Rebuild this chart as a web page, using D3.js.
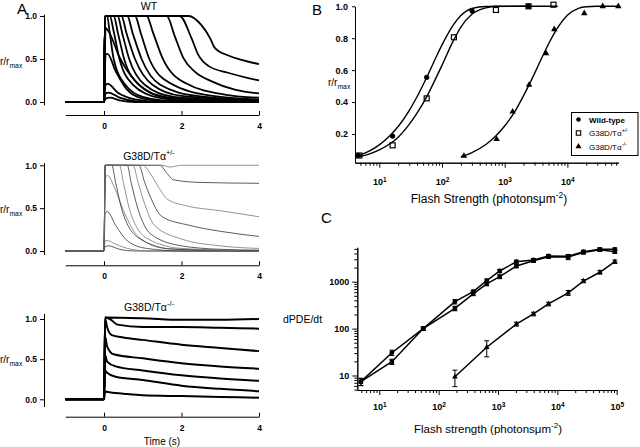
<!DOCTYPE html>
<html><head><meta charset="utf-8">
<script src="https://cdn.jsdelivr.net/npm/d3@7"></script>
<style>
body{margin:0;background:#fff}
svg{display:block}
text{font-family:"Liberation Sans",Arial,Helvetica,sans-serif;fill:#000}
</style>
</head><body>
<svg id="c" width="640" height="447"></svg>
<script>
// ---------------- DATA ----------------
// Panel A : normalized photoresponses, [time (s), r/rmax]
const wtTraces = [
 [[-1,0],[0,0],[0.04,0.04],[0.15,0.05],[0.4,0.02],[0.8,0],[4,0]],
 [[-1,0],[0,0],[0.04,0.1],[0.12,0.11],[0.4,0.05],[0.8,0.01],[1.2,0],[4,0]],
 [[-1,0],[0,0],[0.04,0.2],[0.1,0.21],[0.35,0.11],[0.8,0.03],[1.3,0.005],[4,0]],
 [[-1,0],[0,0],[0.04,0.55],[0.09,0.56],[0.3,0.36],[0.6,0.14],[1.0,0.04],[1.6,0.01],[4,0]],
 [[-1,0],[0,0],[0.04,0.86],[0.12,0.82],[0.4,0.52],[0.8,0.25],[1.2,0.11],[1.7,0.05],[2.5,0.02],[4,0.01]],
 [[-1,0],[0,0],[0.03,1],[0.08,1],[0.15,0.8],[0.25,0.5],[0.55,0.2],[1.0,0.06],[1.8,0.01],[4,0]],
 [[-1,0],[0,0],[0.03,1],[0.15,1],[0.25,0.82],[0.4,0.5],[0.75,0.2],[1.4,0.05],[2.2,0.01],[4,0]],
 [[-1,0],[0,0],[0.03,1],[0.25,1],[0.36,0.8],[0.52,0.5],[0.9,0.2],[1.6,0.05],[2.5,0.02],[4,0.01]],
 [[-1,0],[0,0],[0.03,1],[0.35,1],[0.47,0.8],[0.65,0.5],[1.05,0.2],[1.8,0.06],[4,0.01]],
 [[-1,0],[0,0],[0.03,1],[0.45,1],[0.58,0.8],[0.8,0.5],[1.25,0.2],[2.0,0.07],[4,0.02]],
 [[-1,0],[0,0],[0.03,1],[0.6,1],[0.74,0.8],[0.97,0.5],[1.45,0.2],[2.4,0.07],[4,0.02]],
 [[-1,0],[0,0],[0.03,1],[0.8,1],[0.95,0.8],[1.17,0.5],[1.7,0.22],[2.8,0.07],[4,0.03]],
 [[-1,0],[0,0],[0.03,1],[1.1,1],[1.27,0.8],[1.52,0.5],[2.1,0.22],[3.2,0.08],[4,0.05]],
 [[-1,0],[0,0],[0.03,1],[1.62,1],[1.83,0.76],[2.05,0.51],[2.35,0.35],[2.78,0.24],[3.4,0.14],[4,0.1]],
 [[-1,0],[0,0],[0.03,1],[1.95,1],[2.26,0.74],[2.43,0.55],[2.69,0.42],[3.2,0.34],[4,0.25]],
 [[-1,0],[0,0],[0.03,1],[2.18,1],[2.52,0.89],[2.74,0.74],[2.86,0.63],[3.21,0.54],[3.55,0.49],[4,0.44]]
];
const hetTraces = [
 [[-1,0],[0,0],[0.03,0.05],[0.12,0.06],[0.4,0.02],[0.8,0],[4,0]],
 [[-1,0],[0,0],[0.03,0.12],[0.1,0.12],[0.3,0.08],[0.7,0.02],[1.2,0],[4,0]],
 [[-1,0],[0,0],[0.03,0.44],[0.08,0.46],[0.3,0.3],[0.6,0.12],[1.1,0.03],[2,0],[4,0]],
 [[-1,0],[0,0],[0.03,0.86],[0.1,0.88],[0.25,0.76],[0.55,0.42],[0.9,0.16],[1.6,0.03],[4,0]],
 [[-1,0],[0,0],[0.03,1],[0.2,1],[0.3,0.8],[0.45,0.5],[0.9,0.15],[1.8,0.02],[4,0]],
 [[-1,0],[0,0],[0.03,1],[0.4,1],[0.5,0.8],[0.65,0.5],[1.1,0.15],[2.0,0.03],[4,0]],
 [[-1,0],[0,0],[0.03,1],[0.6,1],[0.7,0.8],[0.87,0.5],[1.2,0.2],[2.0,0.06],[3,0.02],[4,0.01]],
 [[-1,0],[0,0],[0.03,1],[0.75,1],[0.88,0.8],[1.05,0.55],[1.3,0.3],[2.0,0.14],[3,0.06],[4,0.03]],
 [[-1,0],[0,0],[0.03,1],[0.9,1],[1.05,0.8],[1.18,0.65],[1.5,0.4],[2.2,0.3],[3,0.23],[4,0.17]],
 [[-1,0],[0,0],[0.03,1],[1.0,1],[1.2,0.9],[1.4,0.75],[1.65,0.6],[2.1,0.53],[3,0.47],[4,0.4]],
 [[-1,0],[0,0],[0.03,1],[1.45,1],[1.6,0.92],[1.8,0.83],[2.5,0.8],[4,0.79]],
 [[-1,0],[0,0],[0.03,1],[1.5,1],[1.7,0.98],[2,1],[3,1],[4,1]]
];
const koTraces = [
 [[-1,0],[0,0],[0.03,0.1],[0.1,0.09],[0.5,0.07],[1,0.05],[2,0.04],[3,0.03],[4,0.02]],
 [[-1,0],[0,0],[0.03,0.36],[0.08,0.33],[0.3,0.28],[1,0.24],[2,0.17],[3,0.13],[4,0.1]],
 [[-1,0],[0,0],[0.03,0.55],[0.08,0.47],[0.3,0.41],[1,0.36],[2,0.3],[3,0.26],[4,0.23]],
 [[-1,0],[0,0],[0.03,0.78],[0.08,0.66],[0.25,0.56],[1,0.51],[2,0.45],[3,0.41],[4,0.38]],
 [[-1,0],[0,0],[0.03,1],[0.08,0.9],[0.2,0.8],[0.5,0.77],[1,0.74],[2,0.68],[3,0.64],[4,0.6]],
 [[-1,0],[0,0],[0.03,1.02],[0.15,1.0],[0.35,0.93],[1,0.9],[2,0.9],[3,0.89],[4,0.88]],
 [[-1,0],[0,0],[0.03,1.02],[1,1.01],[2,0.99],[3,0.99],[4,1.0]]
];
const aTimeTicks = [0,2,4];
const aRTicks = [0,0.5,1];
const aTitles = ["WT","G38D/T\u03b1","G38D/T\u03b1"];
const aTitleSups = ["","+/-","-/-"];

// Panel B : intensity-response
const bWTFlash = [4.6,16.3,57,303,2400];
const bWTResp  = [0.066,0.187,0.555,0.97,1.0];
const bHetFlash = [4.8,16.3,57,155,725,2400,6000];
const bHetResp  = [0.065,0.129,0.423,0.806,0.977,1.0,1.01];
const bKOFlash = [224,744,1340,2450,4570,6180,18600,36600,65000];
const bKOResp  = [0.062,0.167,0.34,0.507,0.705,0.856,0.956,1.0,1.0];
const bWTFitX = [4.6,7,10,15,20,30,40,60,80,100,150,200,300,500,2400];
const bWTFitY = [0.063,0.094,0.132,0.192,0.247,0.347,0.433,0.573,0.679,0.758,0.881,0.942,0.986,0.999,1.0];
const bHetFitX = [4.6,7,10,15,20,30,40,60,80,100,150,200,300,500,700,7000];
const bHetFitY = [0.055,0.075,0.1,0.14,0.18,0.26,0.33,0.45,0.55,0.63,0.78,0.87,0.95,0.99,1.0,1.0];
const bKOFitX = [200,300,500,700,1000,1500,2000,3000,4000,5000,7000,10000,15000,20000,30000,65000];
const bKOFitY = [0.056,0.083,0.134,0.183,0.25,0.35,0.44,0.58,0.685,0.764,0.867,0.944,0.987,0.997,1.0,1.0];
const bYTicks = [0.2,0.4,0.6,0.8,1.0];
const bXMajor = [10,100,1000,10000];
const legendLabels = ["Wild-type","G38D/T\u03b1","G38D/T\u03b1"];
const legendSups = ["","+/-","-/-"];

// Panel C : dPDE/dt vs flash strength
const cFlash = [4.9,16.3,55,188,382,646,1070,2040,3960,7100,15200,27500,52000,93000];
const cWT    = [7.4,30.6,100,375,613,1050,1690,2670,2900,3540,3500,4360,4900,4900];
const cWTErr = [1.3,4,8,40,50,90,140,200,200,250,250,300,350,350];
const cHet    = [7.4,19.7,100,270,550,900,1280,2160,2800,3400,3350,4200,4800,4360];
const cHetErr = [1.3,2.5,8,30,45,80,120,180,200,250,400,300,350,300];
const cKOFlash = [188,646,2040,3960,7100,15200,27500,52000,93000];
const cKO      = [9.4,40,125,205,335,580,1030,1590,2670];
const cKOErr   = [3.6,15,12,18,30,70,80,140,220];
const cXMajor = [10,100,1000,10000,100000];
const cYMajor = [10,100,1000];

// ---------------- DRAW ----------------
const svg = d3.select("#c");
const F = '"Liberation Sans",Arial,Helvetica,sans-serif';

function styleAxis(g){
  g.selectAll("path,line").attr("stroke","#000").attr("stroke-width",1);
  g.selectAll("text").attr("font-family",F).attr("fill","#000");
}
function supLabel(x,y,main,sup,size,anchor,weight){
  const t = svg.append("text").attr("x",x).attr("y",y).attr("font-size",size)
     .attr("text-anchor",anchor||"start").attr("font-weight",weight||"normal");
  t.append("tspan").text(main);
  if(sup) t.append("tspan").attr("dy",-size*0.45).attr("font-size",size*0.7).text(sup);
  return t;
}
function rLabel(x,y,size){
  const t = svg.append("text").attr("x",x).attr("y",y).attr("font-size",size);
  t.append("tspan").text("r/r");
  t.append("tspan").attr("dy",size*0.3).attr("font-size",size*0.68).text("max");
}

// Panel A
const xA = d3.scaleLinear().domain([-1,4]).range([65.25,259]);
const aPanels = [
  {traces:wtTraces, y:d3.scaleLinear().domain([-0.035,1.023]).range([105,14]), axisY:115, color:"#000", w:1.8, titleY:10, rY:65},
  {traces:hetTraces, y:d3.scaleLinear().domain([-0.04,1.03]).range([254.43,162.73]), axisY:265.3, color:"#444", w:0.8, titleY:160, rY:213},
  {traces:koTraces, y:d3.scaleLinear().domain([-0.09,1.07]).range([406.53,313.38]), axisY:416.7, color:"#000", w:2, titleY:310.5, rY:363}
];
aPanels.forEach((p,i)=>{
  const line = d3.line().x(d=>xA(d[0])).y(d=>p.y(d[1])).curve(d3.curveMonotoneX);
  const g = svg.append("g");
  g.selectAll("path").data(p.traces).join("path")
    .attr("d",line).attr("fill","none")
    .attr("stroke",(d,j)=> i===1 ? (j%2 ? "#777" : "#333") : p.color)
    .attr("stroke-width",p.w).attr("stroke-linejoin","round");
  const ax = svg.append("g").attr("transform",`translate(0,${p.axisY})`)
    .call(d3.axisBottom(xA).tickValues(aTimeTicks).tickSize(-4).tickSizeOuter(0).tickPadding(8).tickFormat(d3.format("d")));
  styleAxis(ax);
  ax.selectAll("text").attr("font-size",8.5).attr("font-weight","bold");
  const ay = svg.append("g").attr("transform","translate(44,0)")
    .call(d3.axisLeft(p.y).tickValues(aRTicks).tickSize(4).tickSizeOuter(0).tickPadding(3).tickFormat(d3.format(".1f")));
  styleAxis(ay);
  ay.selectAll("text").attr("font-size",8.5).attr("font-weight","bold");
  supLabel(149,p.titleY,aTitles[i],aTitleSups[i],10.5,"middle");
  rLabel(0,p.rY,10);
});
svg.append("text").attr("x",162).attr("y",445).attr("text-anchor","middle").attr("font-size",10).text("Time (s)");
svg.append("text").attr("x",17).attr("y",14).attr("font-size",15).text("A");

// Panel B
const xB = d3.scaleLog().domain([4.098,64900]).range([355,618.3]);
const yB = d3.scaleLinear().domain([0.02,1.0]).range([162.7,6.3]);
const bMinor = [];
[1,10,100,1000,10000].forEach(dec=>{for(let k=2;k<=9;k++){const v=k*dec; if(v>=4.098&&v<=64900) bMinor.push(v);}});
const bxMin = svg.append("g").attr("transform","translate(0,162.7)")
  .call(d3.axisBottom(xB).tickValues(bMinor).tickSize(3).tickSizeOuter(0).tickFormat(""));
styleAxis(bxMin);
const bx = svg.append("g").attr("transform","translate(0,162.7)")
  .call(d3.axisBottom(xB).tickValues(bXMajor).tickSize(5).tickSizeOuter(0).tickPadding(11));
styleAxis(bx);
bx.selectAll(".tick text").each(function(d){
  const t=d3.select(this); t.text(null).attr("font-size",9).attr("font-weight","bold");
  t.append("tspan").text("10");
  t.append("tspan").attr("dy","-0.55em").attr("font-size",6.5).text(Math.round(Math.log10(d)));
});
const by = svg.append("g").attr("transform","translate(355,0)")
  .call(d3.axisLeft(yB).tickValues(bYTicks).tickSize(3).tickSizeOuter(0).tickPadding(4).tickFormat(d3.format(".1f")));
styleAxis(by);
by.selectAll("text").attr("font-size",9).attr("font-weight","bold");

const bFit = (xs,ys)=> d3.line().x((d,i)=>xB(xs[i])).y((d,i)=>yB(ys[i])).curve(d3.curveMonotoneX)(xs);
[[bWTFitX,bWTFitY],[bHetFitX,bHetFitY],[bKOFitX,bKOFitY]].forEach(([xs,ys])=>{
  svg.append("path").attr("d",bFit(xs,ys)).attr("fill","none").attr("stroke","#000").attr("stroke-width",1.4);
});
svg.append("g").selectAll("circle").data(bWTFlash).join("circle")
  .attr("cx",d=>xB(d)).attr("cy",(d,i)=>yB(bWTResp[i])).attr("r",2.6).attr("fill","#000");
svg.append("g").selectAll("rect").data(bHetFlash).join("rect")
  .attr("x",d=>xB(d)-2.5).attr("y",(d,i)=>yB(bHetResp[i])-2.5).attr("width",5).attr("height",5)
  .attr("fill","none").attr("stroke","#000").attr("stroke-width",1.2);
const triB = d3.symbol().type(d3.symbolTriangle).size(18);
svg.append("g").selectAll("path").data(bKOFlash).join("path")
  .attr("d",triB).attr("transform",(d,i)=>`translate(${xB(d)},${yB(bKOResp[i])})`).attr("fill","#000");

// legend
svg.append("rect").attr("x",571.5).attr("y",112.5).attr("width",66.5).attr("height",43)
  .attr("fill","#fff").attr("stroke","#000").attr("stroke-width",1);
const legY = [119.5,133,146.5];
svg.append("circle").attr("cx",578.5).attr("cy",legY[0]).attr("r",2.3).attr("fill","#000");
svg.append("rect").attr("x",576.3).attr("y",legY[1]-2.2).attr("width",4.4).attr("height",4.4).attr("fill","none").attr("stroke","#000").attr("stroke-width",1.1);
svg.append("path").attr("d",d3.symbol().type(d3.symbolTriangle).size(16)).attr("transform",`translate(578.5,${legY[2]})`).attr("fill","#000");
legendLabels.forEach((l,i)=>{ supLabel(589,legY[i]+3,l,legendSups[i],8,"start",i===0?"bold":"normal"); });

rLabel(328,86,10);
supLabel(489,203,"Flash Strength (photons\u03bcm","-2",12,"middle").append("tspan").attr("dy",5.4).attr("font-size",12).text(")");
svg.append("text").attr("x",312).attr("y",15).attr("font-size",15).text("B");

// Panel C
const xC = d3.scaleLog().domain([4.26,1e5]).range([357.3,616.7]);
const yC = d3.scaleLog().domain([4.91,5410]).range([390,247.3]);
const cxMinor=[]; [1,10,100,1000,10000].forEach(dec=>{for(let k=2;k<=9;k++){const v=k*dec; if(v>=4.26&&v<=1e5) cxMinor.push(v);}});
const cyMinor=[]; [1,10,100,1000].forEach(dec=>{for(let k=2;k<=9;k++){const v=k*dec; if(v>=4.91&&v<=5410) cyMinor.push(v);}});
styleAxis(svg.append("g").attr("transform","translate(0,390)")
  .call(d3.axisBottom(xC).tickValues(cxMinor).tickSize(3).tickSizeOuter(0).tickFormat("")));
const cx = svg.append("g").attr("transform","translate(0,390)")
  .call(d3.axisBottom(xC).tickValues(cXMajor).tickSize(5).tickSizeOuter(0).tickPadding(9));
styleAxis(cx);
cx.selectAll(".tick text").each(function(d){
  const t=d3.select(this); t.text(null).attr("font-size",9).attr("font-weight","bold");
  t.append("tspan").text("10");
  t.append("tspan").attr("dy","-0.55em").attr("font-size",6.5).text(Math.round(Math.log10(d)));
});
styleAxis(svg.append("g").attr("transform","translate(357.3,0)")
  .call(d3.axisLeft(yC).tickValues(cyMinor).tickSize(3).tickSizeOuter(0).tickFormat("")));
const cy = svg.append("g").attr("transform","translate(357.3,0)")
  .call(d3.axisLeft(yC).tickValues(cYMajor).tickSize(5).tickSizeOuter(0).tickPadding(3).tickFormat(d3.format("d")));
styleAxis(cy);
cy.selectAll("text").attr("font-size",9).attr("font-weight","bold");

function cSeries(xs,ys,es,kind){
  const g = svg.append("g");
  g.append("path").attr("d",d3.line().x((d,i)=>xC(xs[i])).y((d,i)=>yC(ys[i]))(xs))
    .attr("fill","none").attr("stroke","#000").attr("stroke-width",1.5);
  xs.forEach((x,i)=>{
    const px=xC(x), lo=yC(Math.max(ys[i]-es[i],1)), hi=yC(ys[i]+es[i]);
    g.append("line").attr("x1",px).attr("x2",px).attr("y1",lo).attr("y2",hi).attr("stroke","#000").attr("stroke-width",1);
    [lo,hi].forEach(yy=>g.append("line").attr("x1",px-2.5).attr("x2",px+2.5).attr("y1",yy).attr("y2",yy).attr("stroke","#000").attr("stroke-width",1));
    const py=yC(ys[i]);
    if(kind==="c") g.append("circle").attr("cx",px).attr("cy",py).attr("r",2.4).attr("fill","#000");
    else if(kind==="s") g.append("rect").attr("x",px-2.2).attr("y",py-2.2).attr("width",4.4).attr("height",4.4).attr("fill","#000");
    else g.append("path").attr("d",d3.symbol().type(d3.symbolTriangle).size(14)).attr("transform",`translate(${px},${py})`).attr("fill","#000");
  });
}
cSeries(cFlash,cHet,cHetErr,"s");
cSeries(cFlash,cWT,cWTErr,"c");
cSeries(cKOFlash,cKO,cKOErr,"t");

svg.append("text").attr("x",283).attr("y",323).attr("font-size",10.5).text("dPDE/dt");
supLabel(488,433,"Flash strength (photons\u03bcm","-2",11.5,"middle").append("tspan").attr("dy",5.2).attr("font-size",11.5).text(")");
svg.append("text").attr("x",321).attr("y",223).attr("font-size",15).text("C");
</script>
</body></html>
